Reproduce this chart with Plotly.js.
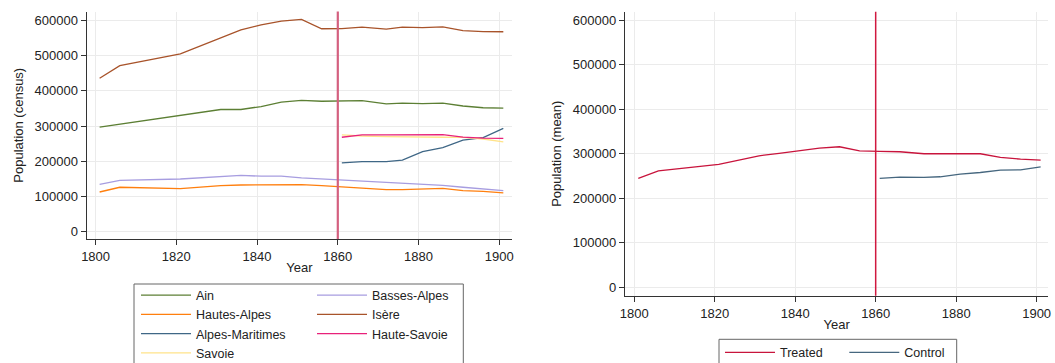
<!DOCTYPE html>
<html>
<head>
<meta charset="utf-8">
<script src="https://cdn.plot.ly/plotly-3.0.1.min.js"></script>
<style>html,body{margin:0;padding:0;background:#fff}#chart{width:1055px;height:363px}</style>
</head>
<body>
<div id="chart"></div>
<script>
// Census years
const years = [1801,1806,1821,1831,1836,1841,1846,1851,1856,1861,1866,1872,1876,1881,1886,1891,1896,1901];
const yearsPost = [1861,1866,1872,1876,1881,1886,1891,1896,1901];

// Left panel: department populations (census)
const ain          = [297000,305000,329000,347000,347000,355500,368000,373000,370500,370500,372500,363000,365000,364000,365000,357000,352000,351000];
const bassesAlpes  = [134000,145000,149000,156000,159500,157000,157000,152000,149000,146000,143500,140000,137000,133000,131000,125500,121000,116000];
const hautesAlpes  = [112000,125500,121700,130000,132000,133000,134000,133000,130000,126000,122500,119000,119000,121500,122500,116000,114000,109500];
const isere        = [436000,472000,505500,550000,574000,588000,599000,603500,577000,577500,581500,576000,581500,580500,582500,572000,569000,568500];
const alpesMaritimes = [195000,198500,198500,203000,227000,238500,259500,267000,293500];
const hauteSavoie  = [268000,274500,274500,274500,274500,275500,268500,265500,265000];
const savoie       = [275000,271500,270000,269000,268000,268000,267500,263000,255000];

// Right panel: means
const treated = [244600,261800,276000,295500,300700,307500,312700,315700,306700,305200,304500,300000,300700,300000,300000,291800,288000,285800];
const control = [244600,247600,246900,248400,254400,258000,263300,264000,270800];

const treatmentYear = 1860;

const FONT = '"Liberation Sans", Arial, sans-serif';
const lw = 1.3;

function tr(x, y, name, color, xa, ya, legend) {
  return {x: x, y: y, name: name, type: 'scatter', mode: 'lines',
          line: {color: color, width: lw}, xaxis: xa, yaxis: ya, legend: legend};
}

const data = [
  tr(years, ain, 'Ain', '#5c7f34', 'x', 'y', 'legend'),
  tr(years, hautesAlpes, 'Hautes-Alpes', '#ff7f0e', 'x', 'y', 'legend'),
  tr(yearsPost, alpesMaritimes, 'Alpes-Maritimes', '#3f6786', 'x', 'y', 'legend'),
  tr(yearsPost, savoie, 'Savoie', '#ffe38a', 'x', 'y', 'legend'),
  tr(years, bassesAlpes, 'Basses-Alpes', '#a79de0', 'x', 'y', 'legend2'),
  tr(years, isere, 'Isère', '#a8532a', 'x', 'y', 'legend2'),
  tr(yearsPost, hauteSavoie, 'Haute-Savoie', '#e8217a', 'x', 'y', 'legend2'),
  tr(years, treated, 'Treated', '#c8143c', 'x2', 'y2', 'legend3'),
  tr(yearsPost, control, 'Control', '#46677f', 'x2', 'y2', 'legend4')
];

const W = 1055, H = 363;
const px = v => v / W;
const py = v => 1 - v / H;

const axisCommon = {
  showline: true, linecolor: '#333', linewidth: 1.2,
  ticks: 'outside', ticklen: 5, tickwidth: 1, tickcolor: '#333',
  showgrid: true, gridcolor: '#ebebeb', gridwidth: 1,
  zeroline: false,
  tickfont: {family: FONT, size: 13, color: '#222'},
  automargin: false
};

function xax(domain, range, anchor) {
  return Object.assign({}, axisCommon, {
    domain: domain, range: range, anchor: anchor,
    tick0: 1800, dtick: 20, tickformat: 'd',
    title: {text: 'Year', font: {family: FONT, size: 13, color: '#222'}, standoff: 0}
  });
}
function yax(domain, range, anchor, title) {
  return Object.assign({}, axisCommon, {
    domain: domain, range: range, anchor: anchor,
    tick0: 0, dtick: 100000, tickformat: 'd',
    title: {text: title, font: {family: FONT, size: 13, color: '#222'}, standoff: 8}
  });
}

function legendAt(xpx, ytoppx) {
  return {x: px(xpx), y: py(ytoppx), xanchor: 'left', yanchor: 'top',
          xref: 'paper', yref: 'paper', orientation: 'v',
          bgcolor: 'rgba(0,0,0,0)', borderwidth: 0, itemwidth: 50,
          font: {family: FONT, size: 12.5, color: '#222'}, tracegroupgap: 0};
}

const layout = {
  width: W, height: H,
  margin: {l: 0, r: 0, t: 0, b: 0, autoexpand: false},
  paper_bgcolor: '#fff', plot_bgcolor: '#fff',
  font: {family: FONT, size: 13, color: '#222'},
  showlegend: true,
  xaxis: xax([px(86.7), px(512)], [1797.8, 1903.15], 'y'),
  yaxis: yax([py(239), py(11.5)], [-21900, 626200], 'x', 'Population (census)'),
  xaxis2: xax([px(625), px(1048.3)], [1797.7, 1902.9], 'y2'),
  yaxis2: yax([py(295.7), py(11.7)], [-18400, 618700], 'x2', 'Population (mean)'),
  legend: legendAt(136, 280.5),
  legend2: legendAt(312, 280.5),
  legend3: legendAt(720, 337.8),
  legend4: legendAt(844.3, 337.8),
  shapes: [
    {type: 'line', xref: 'x', yref: 'y domain', x0: treatmentYear, x1: treatmentYear, y0: 0, y1: 1,
     line: {color: '#d4607f', width: 2.2}},
    {type: 'line', xref: 'x2', yref: 'y2 domain', x0: treatmentYear, x1: treatmentYear, y0: 0, y1: 1,
     line: {color: '#d0183f', width: 1.5}},
    {type: 'rect', xref: 'paper', yref: 'paper', x0: px(134), x1: px(463.3), y0: py(375), y1: py(284),
     line: {color: '#666', width: 1}, fillcolor: 'rgba(0,0,0,0)', layer: 'below'},
    {type: 'rect', xref: 'paper', yref: 'paper', x0: px(719), x1: px(956.7), y0: py(375), y1: py(339.3),
     line: {color: '#666', width: 1}, fillcolor: 'rgba(0,0,0,0)', layer: 'below'}
  ]
};

Plotly.newPlot('chart', data, layout, {staticPlot: true, displayModeBar: false});
</script>
</body>
</html>
